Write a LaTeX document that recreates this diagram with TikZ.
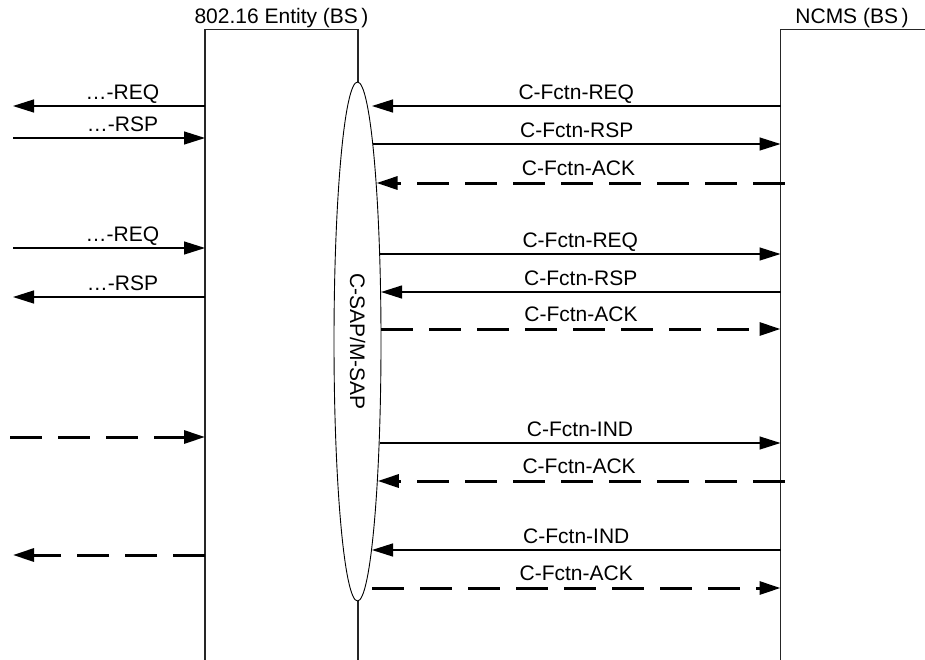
\documentclass[tikz,border=0pt]{standalone}
\usepackage{fontspec}
\setmainfont{Liberation Sans}
\usetikzlibrary{positioning, arrows.meta, shapes.geometric, calc}

\begin{document}
\begin{tikzpicture}[
  x=1pt, y=-1pt,
  font=\fontsize{21}{24}\selectfont,
  life/.style ={draw=black!85, line width=1.6pt, anchor=north west, inner sep=0pt, outer sep=0pt, minimum height=700pt},
  sap/.style  ={ellipse, draw=black, fill=white, line width=0.9pt, inner sep=0pt, minimum width=47pt, minimum height=519pt},
  lbl/.style  ={inner sep=0pt, text depth=0pt},
  msg/.style  ={line width=1.3pt, draw=black},
  ack/.style  ={line width=3pt, draw=black, dash pattern=on 32pt off 16pt},
  fwd/.style  ={-{Triangle[length=21pt, width=13pt]}},
]
\useasboundingbox (0,0) rectangle (925,659);
\clip (0,0) rectangle (925,659);

% ---------- lifelines ----------
\node[life, minimum width=153pt] (ent)  at (205,29.5)  {};
\node[life, minimum width=200pt] (ncms) at (780.5,29.5) {};
\node[lbl, above=6pt of ent.north] (entname) {802.16 Entity (BS\,)};
\node[lbl, above=6pt of ncms.north west, xshift=71.5pt] (ncmsname) {NCMS (BS\,)};

% ---------- service access point ----------
\node[sap] (sap) at (357.5,341.5) {};
\node[rotate=-90] (saplbl) at (sap.center) {C-SAP/M-SAP};

% ---------- end points ----------
\foreach \yy [count=\i] in {106,144,183,254,292,329,443,481,550,588} {
  \pgfmathsetmacro\ex{max(357.5+24*sqrt(1-((\yy-341.5)/260)^2), 372)}
  \coordinate (e\i) at (\ex,\yy);
  \coordinate (n\i) at (ncms.west |- e\i);
}
\foreach \yy [count=\i] in {106,138,248,297,437,555} {
  \coordinate (w\i) at (13,\yy);
  \coordinate (v\i) at (ent.west |- w\i);
}

% ---------- primitives to/from NCMS ----------
\draw[msg, fwd] (n1) -- node[lbl, above=5.5pt] {C-Fctn-REQ} (e1);
\draw[msg, fwd] (e2) -- node[lbl, above=5.5pt] {C-Fctn-RSP} (n2);
\draw[ack, fwd, shorten <=-4pt] (n3) -- node[lbl, above=6pt] {C-Fctn-ACK} (e3);
\draw[msg, fwd] (e4) -- node[lbl, above=5.5pt] {C-Fctn-REQ} (n4);
\draw[msg, fwd] (n5) -- node[lbl, above=5.5pt] {C-Fctn-RSP} (e5);
\draw[ack, fwd] (e6) -- node[lbl, above=6pt] {C-Fctn-ACK} (n6);
\draw[msg, fwd] (e7) -- node[lbl, above=5.5pt] {C-Fctn-IND} (n7);
\draw[ack, fwd, shorten <=-4pt] (n8) -- node[lbl, above=6pt] {C-Fctn-ACK} (e8);
\draw[msg, fwd] (n9) -- node[lbl, above=5.5pt] {C-Fctn-IND} (e9);
\draw[ack, fwd] (e10) -- node[lbl, above=6pt] {C-Fctn-ACK} (n10);

% ---------- air interface messages ----------
\draw[msg, fwd] (v1) -- node[lbl, pos=0.43, above=6pt] {…-REQ} (w1);
\draw[msg, fwd] (w2) -- node[lbl, pos=0.57, above=6pt] {…-RSP} (v2);
\draw[msg, fwd] (w3) -- node[lbl, pos=0.57, above=6pt] {…-REQ} (v3);
\draw[msg, fwd] (v4) -- node[lbl, pos=0.43, above=6pt] {…-RSP} (w4);
\draw[ack, fwd, shorten <=-3pt] (w5) -- (v5);
\draw[ack, fwd] (v6) -- (w6);

\end{tikzpicture}
\end{document}
